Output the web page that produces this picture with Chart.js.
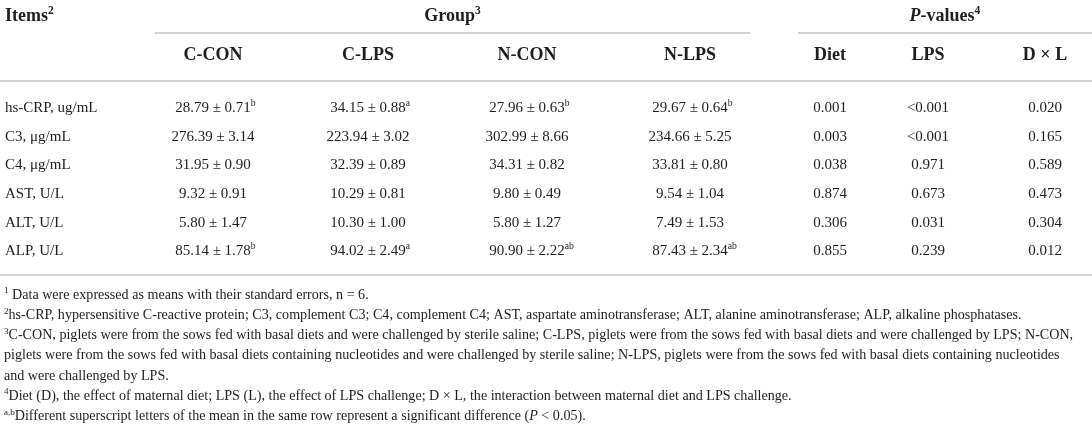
<!DOCTYPE html>
<html><head><meta charset="utf-8">
<script src="https://cdn.jsdelivr.net/npm/chart.js@4.4.1/dist/chart.umd.min.js"></script>
<style>html,body{margin:0;padding:0;background:#fff;overflow:hidden}#wrap{width:1092px;height:427px}</style>
</head><body><div id="wrap"><canvas id="c" width="1092" height="427"></canvas></div>
<script>
// ---------- DATA ----------
const items = ['hs-CRP, ug/mL','C3, \u03bcg/mL','C4, \u03bcg/mL','AST, U/L','ALT, U/L','ALP, U/L'];
const groups = ['C-CON','C-LPS','N-CON','N-LPS'];
const pHeads = ['Diet','LPS','D \u00d7 L'];
const cconMean = [28.79, 276.39, 31.95, 9.32, 5.80, 85.14];
const cconSE   = [0.71, 3.14, 0.90, 0.91, 1.47, 1.78];
const cconSup  = ['b','','','','','b'];
const clpsMean = [34.15, 223.94, 32.39, 10.29, 10.30, 94.02];
const clpsSE   = [0.88, 3.02, 0.89, 0.81, 1.00, 2.49];
const clpsSup  = ['a','','','','','a'];
const nconMean = [27.96, 302.99, 34.31, 9.80, 5.80, 90.90];
const nconSE   = [0.63, 8.66, 0.82, 0.49, 1.27, 2.22];
const nconSup  = ['b','','','','','ab'];
const nlpsMean = [29.67, 234.66, 33.81, 9.54, 7.49, 87.43];
const nlpsSE   = [0.64, 5.25, 0.80, 1.04, 1.53, 2.34];
const nlpsSup  = ['b','','','','','ab'];
const pDiet = ['0.001','0.003','0.038','0.874','0.306','0.855'];
const pLPS  = ['<0.001','<0.001','0.971','0.673','0.031','0.239'];
const pDxL  = ['0.020','0.165','0.589','0.473','0.304','0.012'];
const footnotes = [
  [{t:'1',sup:true},{t:' Data were expressed as means with their standard errors, n = 6.'}],
  [{t:'2',sup:true},{t:'hs-CRP, hypersensitive C-reactive protein; C3, complement C3; C4, complement C4; AST, aspartate aminotransferase; ALT, alanine aminotransferase; ALP, alkaline phosphatases.'}],
  [{t:'3',sup:true},{t:'C-CON, piglets were from the sows fed with basal diets and were challenged by sterile saline; C-LPS, piglets were from the sows fed with basal diets and were challenged by LPS; N-CON,'}],
  [{t:'piglets were from the sows fed with basal diets containing nucleotides and were challenged by sterile saline; N-LPS, piglets were from the sows fed with basal diets containing nucleotides'}],
  [{t:'and were challenged by LPS.'}],
  [{t:'4',sup:true},{t:'Diet (D), the effect of maternal diet; LPS (L), the effect of LPS challenge; D \u00d7 L, the interaction between maternal diet and LPS challenge.'}],
  [{t:'a,b',sup:true},{t:'Different superscript letters of the mean in the same row represent a significant difference ('},{t:'P',it:true},{t:' < 0.05).'}]
];

// ---------- LAYOUT / STYLE ----------
const FAMILY = "'Liberation Serif','DejaVu Serif',serif";
const INK = '#1e1e1e';
const RULE = '#d3d3d3';
const LAY = {
  itemsX: 5, footX: 4,
  colX: [213, 368, 527, 690, 830, 928, 1045],
  groupRule: [155, 750], pRule: [798, 1092],
  ruleTopY: 33, ruleHeadY: 81, ruleBotY: 275,
  head1Y: 15, head2Y: 54,
  rowY0: 107, rowStep: 28.6,
  footY0: 294, footStep: 20.2,
  headSize: 18, cellSize: 15, footSize: 14.1
};

// ---------- BUILD ANCHORS ----------
const anchors = [];
function add(x, y, rich, align, size) { anchors.push({x, y, rich, align, size}); }
add(LAY.itemsX, LAY.head1Y, [{t:'Items',b:true},{t:'2',sup:true,b:true}], 'left', LAY.headSize);
add((LAY.groupRule[0]+LAY.groupRule[1])/2, LAY.head1Y, [{t:'Group',b:true},{t:'3',sup:true,b:true}], 'center', LAY.headSize);
add((LAY.pRule[0]+LAY.pRule[1])/2, LAY.head1Y, [{t:'P',b:true,it:true},{t:'-values',b:true},{t:'4',sup:true,b:true}], 'center', LAY.headSize);
groups.forEach((g,i)=>add(LAY.colX[i], LAY.head2Y, [{t:g,b:true}], 'center', LAY.headSize));
pHeads.forEach((g,i)=>add(LAY.colX[4+i], LAY.head2Y, [{t:g,b:true}], 'center', LAY.headSize));
const gm = [cconMean, clpsMean, nconMean, nlpsMean];
const gs = [cconSE, clpsSE, nconSE, nlpsSE];
const gp = [cconSup, clpsSup, nconSup, nlpsSup];
const pv = [pDiet, pLPS, pDxL];
items.forEach((it, r) => {
  const y = LAY.rowY0 + r*LAY.rowStep;
  add(LAY.itemsX, y, [{t:it}], 'left', LAY.cellSize);
  for (let g=0; g<4; g++) {
    const rich = [{t: gm[g][r].toFixed(2) + ' \u00b1 ' + gs[g][r].toFixed(2)}];
    if (gp[g][r]) rich.push({t: gp[g][r], sup:true, hang:true});
    add(LAY.colX[g], y, rich, 'center', LAY.cellSize);
  }
  for (let p=0; p<3; p++) add(LAY.colX[4+p], y, [{t: pv[p][r]}], 'center', LAY.cellSize);
});
footnotes.forEach((f, i) => add(LAY.footX, LAY.footY0 + i*LAY.footStep, f, 'left', LAY.footSize));

function seg(x1, x2, y) { return [{x:x1,y},{x:x2,y}]; }
const ruleSets = [
  seg(LAY.groupRule[0], LAY.groupRule[1], LAY.ruleTopY),
  seg(LAY.pRule[0], LAY.pRule[1], LAY.ruleTopY),
  seg(0, 1092, LAY.ruleHeadY),
  seg(0, 1092, LAY.ruleBotY)
].map(d => ({data:d, showLine:true, borderColor:RULE, backgroundColor:RULE, borderWidth:2, pointRadius:0, clip:false}));

// ---------- TEXT PLUGIN ----------
function fontOf(s, size) {
  const sz = s.sup ? size*0.64 : size;
  return (s.it ? 'italic ' : '') + (s.b ? 'bold ' : '') + sz + 'px ' + FAMILY;
}
const richText = {
  id: 'richText',
  afterDatasetsDraw(chart) {
    const ctx = chart.ctx;
    const meta = chart.getDatasetMeta(chart.data.datasets.length - 1);
    const ds = chart.data.datasets[chart.data.datasets.length - 1];
    ctx.save();
    ctx.fillStyle = INK;
    ctx.textBaseline = 'alphabetic';
    meta.data.forEach((el, i) => {
      const a = ds.data[i];
      const size = a.size;
      let wMain = 0;
      a.rich.forEach(s => { ctx.font = fontOf(s, size); const m = ctx.measureText(s.t).width; s._w = m; if (!s.hang) wMain += m; });
      let x = el.x;
      if (a.align === 'center') x = el.x - wMain/2;
      const base = el.y + size*0.34;
      a.rich.forEach(s => {
        ctx.font = fontOf(s, size);
        ctx.fillText(s.t, x, s.sup ? base - size*0.38 : base);
        x += s._w;
      });
    });
    ctx.restore();
  }
};

new Chart(document.getElementById('c'), {
  type: 'scatter',
  data: { datasets: [...ruleSets, {data: anchors, pointRadius:0, borderWidth:0, clip:false}] },
  options: {
    responsive: false, animation: false, events: [],
    layout: { padding: 0 },
    plugins: { legend: {display:false}, tooltip: {enabled:false} },
    scales: {
      x: { type:'linear', min:0, max:1092, display:false },
      y: { type:'linear', min:0, max:427, reverse:true, display:false }
    }
  },
  plugins: [richText]
});
</script></body></html>
